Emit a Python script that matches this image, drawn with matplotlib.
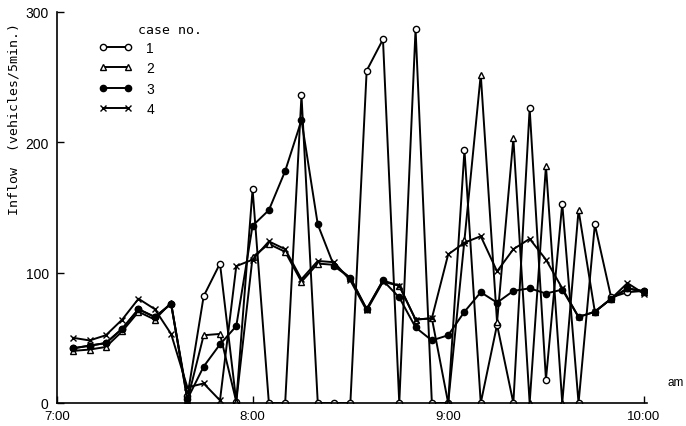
"""Inflow per 5 minutes for four control cases, 7:00-10:00 am."""

import matplotlib

matplotlib.use("Agg")
import matplotlib.pyplot as plt

# minutes after 7:00 (7:05 ... 10:00)
minutes = [5 * k for k in range(1, 37)]

case1 = [42, 44, 46, 57, 72, 66, 76, 5, 82, 107, 1, 164, 0, 0, 236, 0, 0, 0,
         255, 279, 0, 287, 0, 0, 194, 0, 60, 0, 226, 18, 153, 0, 137, 81, 85, 86]
case2 = [40, 41, 43, 55, 70, 64, 77, 2, 52, 53, 1, 112, 122, 116, 93, 107, 106, 96,
         72, 94, 90, 64, 65, 0, 125, 252, 62, 203, 0, 182, 0, 148, 70, 80, 88, 85]
case3 = [42, 44, 46, 57, 72, 66, 76, 3, 28, 45, 59, 136, 148, 178, 217, 137, 105, 96,
         72, 94, 81, 58, 48, 52, 70, 85, 77, 86, 88, 84, 87, 66, 70, 80, 88, 86]
case4 = [50, 48, 52, 64, 80, 72, 53, 12, 15, 2, 105, 110, 124, 118, 95, 109, 108, 94,
         71, 93, 90, 64, 65, 114, 123, 128, 101, 118, 126, 110, 88, 66, 70, 80, 92, 84]

case_labels = ["1", "2", "3", "4"]
x_ticks = [0, 60, 120, 180]
x_tick_labels = ["7:00", "8:00", "9:00", "10:00"]
y_ticks = [0, 100, 200, 300]

fig = plt.figure(figsize=(6.86, 4.27), dpi=100)
ax = fig.add_axes([57 / 686, 23 / 427, 590 / 686, 391 / 427])

style = dict(color="black", linewidth=1.4, markersize=4.5, markeredgewidth=1.0)
ax.plot(minutes, case1, marker="o", markerfacecolor="white", label=case_labels[0], **style)
ax.plot(minutes, case2, marker="^", markerfacecolor="white", label=case_labels[1], **style)
ax.plot(minutes, case3, marker="o", markerfacecolor="black", label=case_labels[2], **style)
ax.plot(minutes, case4, marker="x", label=case_labels[3], **style)

ax.set_xlim(0, 181)
ax.set_ylim(0, 300)
ax.spines["top"].set_visible(False)
ax.spines["right"].set_visible(False)
ax.spines["left"].set_linewidth(1.2)
ax.spines["bottom"].set_linewidth(1.2)

ax.set_xticks(x_ticks)
ax.set_xticklabels(x_tick_labels, fontsize=9.5, family="Liberation Sans")
ax.set_yticks(y_ticks)
ax.set_yticklabels([str(v) for v in y_ticks], fontsize=10, family="Liberation Sans")
ax.tick_params(direction="in", length=5, width=1.0)
ax.tick_params(axis="x", pad=5)
ax.tick_params(axis="y", pad=6)

ax.set_ylabel("Inflow  (vehicles/5min.)", fontsize=9.5, family="DejaVu Sans Mono")
ax.yaxis.set_label_coords(-0.062, 0.73)
fig.text(668 / 686, 1 - 383 / 427, "am", fontsize=8.5, family="Liberation Sans", va="center")

leg = ax.legend(loc="upper left", bbox_to_anchor=(99 / 686, 1 - 42 / 427),
                bbox_transform=fig.transFigure, frameon=False, numpoints=2,
                handlelength=2.4, handletextpad=1.0, labelspacing=0.45,
                borderpad=0, borderaxespad=0, prop={"family": "Liberation Sans", "size": 10})
fig.text(138 / 686, 1 - 31 / 427, "case no.", fontsize=9.5, family="DejaVu Sans Mono", va="center")

fig.savefig("out.png", dpi=100)
